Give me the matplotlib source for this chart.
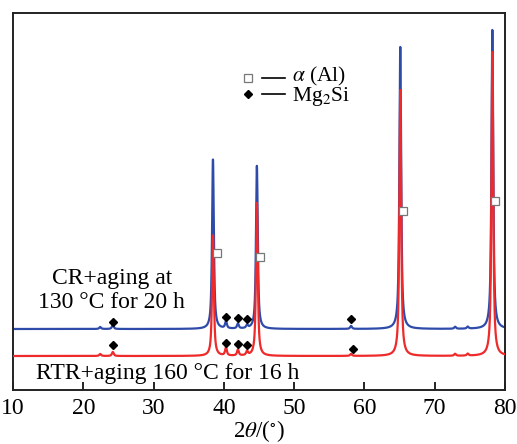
import numpy as np
import matplotlib
matplotlib.use("Agg")
import matplotlib.pyplot as plt

# ---- data (arbitrary intensity units) ----
two_theta = np.linspace(10, 80, 3501)

cr_baseline = 61
cr_peak_pos = [22.4, 24.2, 38.45, 40.3, 42.0, 43.3, 44.7, 58.1, 65.1, 72.9, 74.7, 78.2]
cr_peak_height = [2, 4, 170, 7, 5, 3, 163, 3, 282, 2, 2, 299]

rtr_baseline = 34
rtr_peak_pos = [22.4, 24.2, 38.45, 40.3, 42.0, 43.3, 44.7, 58.1, 65.1, 72.9, 74.7, 78.2]
rtr_peak_height = [2, 4, 121, 8, 6, 4, 153, 2, 266, 2, 2, 304]

peak_fwhm = 0.3
peak_eta = 0.8

alpha_al_x = [39.0, 45.1, 65.5, 78.6]
alpha_al_y = [137, 133, 179, 189]

mg2si_cr_x = [24.2, 40.3, 42.0, 43.3, 58.1]
mg2si_cr_y = [68, 73, 72, 71, 71]
mg2si_rtr_x = [24.2, 40.3, 42.0, 43.3, 58.4]
mg2si_rtr_y = [45, 47, 46, 45, 41]

xticks = [10, 20, 30, 40, 50, 60, 70, 80]


def pattern(base, pos, height):
    y = np.full_like(two_theta, float(base))
    w = peak_fwhm / 2
    for p, h in zip(pos, height):
        d = two_theta - p
        lor = 1 / (1 + (d / w) ** 2)
        gau = np.exp(-np.log(2) * (d / w) ** 2)
        y += h * (peak_eta * lor + (1 - peak_eta) * gau)
    return y


serif = ["Liberation Serif", "DejaVu Serif"]
plt.rcParams["font.family"] = serif
plt.rcParams["mathtext.fontset"] = "stix"

fig = plt.figure(figsize=(5.17, 4.44), dpi=100)
ax = fig.add_axes([13 / 517, 1 - 390 / 444, 492 / 517, 377 / 444])

blue = "#2E4BAA"
red = "#EE2A2A"
ax.plot(two_theta, pattern(cr_baseline, cr_peak_pos, cr_peak_height), color=blue, lw=1.6, zorder=2)
ax.plot(two_theta, pattern(rtr_baseline, rtr_peak_pos, rtr_peak_height), color=red, lw=1.6, zorder=3)

ax.plot(alpha_al_x, alpha_al_y, ls="none", marker="s", ms=6, mfc="white", mec="#777777", mew=0.9, zorder=4)
ax.plot(mg2si_cr_x, mg2si_cr_y, ls="none", marker="D", ms=4.5, color="black", zorder=4)
ax.plot(mg2si_rtr_x, mg2si_rtr_y, ls="none", marker="D", ms=4.5, color="black", zorder=4)

ax.set_xlim(10, 80)
ax.set_ylim(0, 377)
ax.set_xticks(xticks)
ax.set_xticklabels([str(t) for t in xticks], fontsize=17)
ax.set_yticks([])
ax.tick_params(axis="x", direction="in", length=6, width=1.2, pad=6)
for s in ax.spines.values():
    s.set_linewidth(1.4)
    s.set_color("#222222")

ax.set_xlabel(r"2$\it{\theta}$/($^{\circ}$)", fontsize=16.5, labelpad=-1)

ax.text((112 - 13) / 492, (390 - 278) / 377, "CR+aging at", transform=ax.transAxes,
        ha="center", va="center", fontsize=17)
ax.text((111 - 13) / 492, (390 - 302) / 377, "130 °C for 20 h", transform=ax.transAxes,
        ha="center", va="center", fontsize=17)
ax.text((168 - 13) / 492, (390 - 373) / 377, "RTR+aging 160 °C for 16 h", transform=ax.transAxes,
        ha="center", va="center", fontsize=17)

# legend-like annotation
lx0 = (248 - 13) / 492
ax.plot([lx0], [(390 - 78) / 377], transform=ax.transAxes, marker="s", ms=5.5,
        mfc="white", mec="#777777", mew=0.9, ls="none")
ax.plot([lx0], [(390 - 94) / 377], transform=ax.transAxes, marker="D", ms=4.5,
        color="black", ls="none")
ax.plot([(262 - 13) / 492, (285 - 13) / 492], [(390 - 78) / 377] * 2, transform=ax.transAxes,
        color="black", lw=1.2)
ax.plot([(262 - 13) / 492, (285 - 13) / 492], [(390 - 94) / 377] * 2, transform=ax.transAxes,
        color="black", lw=1.2)
ax.text((292 - 13) / 492, (390 - 76) / 377, r"$\it{\alpha}$ (Al)", transform=ax.transAxes,
        ha="left", va="center", fontsize=15.5)
ax.text((292 - 13) / 492, (390 - 97) / 377, r"Mg$_2$Si", transform=ax.transAxes,
        ha="left", va="center", fontsize=15.5)

fig.savefig("out.png", dpi=100)
